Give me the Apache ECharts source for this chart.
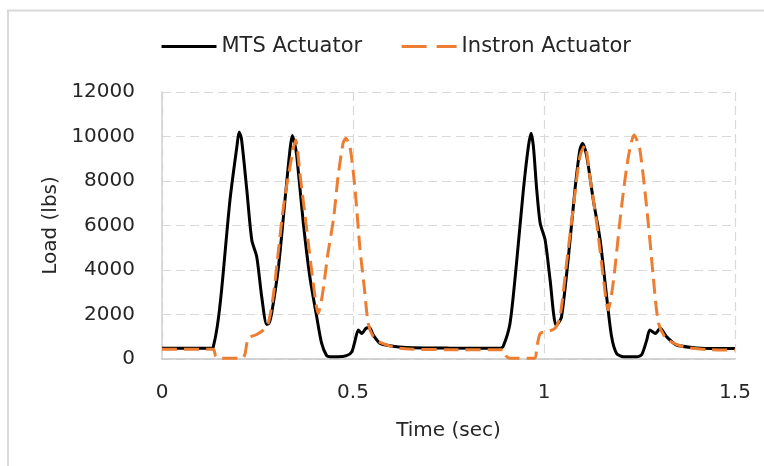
<!DOCTYPE html>
<html>
<head>
<meta charset="utf-8">
<script src="https://cdn.jsdelivr.net/npm/echarts@6/dist/echarts.min.js"></script>
<style>
  html, body { margin: 0; padding: 0; background: #ffffff; }
  #chart { width: 764px; height: 466px; }
</style>
</head>
<body>
<div id="chart"></div>
<script>
// Load history of the two actuators over 1.5 s (time in sec, load in lbs)
const mtsTime = [0, 0.13, 0.134, 0.145, 0.156, 0.178, 0.196, 0.202, 0.208, 0.222, 0.235, 0.248, 0.261, 0.274, 0.28, 0.287, 0.305, 0.322, 0.335, 0.341, 0.347, 0.353, 0.37, 0.387, 0.405, 0.418, 0.431, 0.44, 0.46, 0.483, 0.497, 0.505, 0.514, 0.523, 0.534, 0.543, 0.553, 0.571, 0.597, 0.64, 0.75, 0.885, 0.893, 0.911, 0.928, 0.946, 0.959, 0.966, 0.972, 0.981, 0.99, 1.003, 1.016, 1.031, 1.037, 1.046, 1.064, 1.081, 1.094, 1.101, 1.112, 1.129, 1.147, 1.164, 1.177, 1.19, 1.208, 1.243, 1.256, 1.269, 1.277, 1.292, 1.304, 1.321, 1.347, 1.4, 1.45, 1.5];
const mtsLoad = [480, 480, 520, 1500, 3100, 7150, 9540, 10200, 9900, 7600, 5350, 4600, 2800, 1550, 1600, 2050, 4150, 7150, 9400, 10050, 9700, 9100, 6100, 3700, 1900, 700, 150, 100, 100, 150, 330, 800, 1300, 1150, 1380, 1420, 1080, 700, 600, 520, 490, 480, 560, 1600, 4300, 7600, 9540, 10150, 9600, 7600, 6100, 5350, 3550, 1530, 1600, 1900, 4600, 7600, 9400, 9700, 9100, 7150, 5350, 2800, 1000, 250, 100, 100, 200, 850, 1300, 1150, 1380, 1000, 630, 500, 470, 470];

const instronTime = [0, 0.134, 0.14, 0.15, 0.21, 0.217, 0.226, 0.248, 0.265, 0.278, 0.291, 0.305, 0.318, 0.335, 0.35, 0.361, 0.379, 0.396, 0.409, 0.42, 0.434, 0.449, 0.461, 0.474, 0.481, 0.492, 0.505, 0.518, 0.529, 0.54, 0.553, 0.571, 0.614, 0.658, 0.75, 0.893, 0.9, 0.91, 0.975, 0.981, 0.99, 1.007, 1.029, 1.042, 1.059, 1.077, 1.094, 1.107, 1.12, 1.138, 1.155, 1.168, 1.181, 1.203, 1.221, 1.236, 1.251, 1.273, 1.286, 1.3, 1.321, 1.365, 1.426, 1.5];
const instronLoad = [440, 440, 150, 30, 30, 200, 930, 1100, 1300, 1600, 2800, 4900, 6850, 8650, 9840, 8350, 5800, 3400, 2050, 2900, 4700, 6300, 8200, 9700, 9920, 9540, 7700, 5000, 3300, 1600, 1000, 750, 500, 440, 420, 420, 150, 30, 30, 500, 1150, 1230, 1380, 1900, 4300, 6850, 9100, 9600, 8200, 6100, 3700, 2200, 3400, 6850, 9100, 10070, 9400, 6100, 3700, 1600, 900, 550, 420, 400];

const xTicks = { min: 0, max: 1.5, step: 0.5 };
const yTicks = { min: 0, max: 12000, step: 2000 };

const pairs = (xs, ys) => xs.map((x, i) => [x, ys[i]]);

const FONT = 'DejaVu Sans';
const TEXT = '#262626';
const GRID = '#d9d9d9';

const chart = echarts.init(document.getElementById('chart'), null, { renderer: 'canvas' });
chart.setOption({
  animation: false,
  backgroundColor: '#ffffff',
  textStyle: { fontFamily: FONT },
  graphic: [{
    type: 'rect',
    silent: true,
    z: -10,
    shape: { x: 8, y: 10.5, width: 800, height: 500 },
    style: { fill: 'none', stroke: '#d9d9d9', lineWidth: 2 }
  }],
  legend: {
    type: 'plain',
    orient: 'horizontal',
    left: 155,
    top: 31,
    itemWidth: 55,
    itemHeight: 14,
    itemGap: 38,
    itemStyle: { opacity: 0 },
    lineStyle: { width: 3 },
    textStyle: { fontFamily: FONT, fontSize: 21, color: TEXT },
    data: [
      { name: 'MTS Actuator' },
      { name: 'Instron Actuator', lineStyle: { width: 3, type: [25, 10] } }
    ]
  },
  grid: { left: 162, right: 29, top: 92, bottom: 107, containLabel: false },
  xAxis: {
    type: 'value',
    min: xTicks.min,
    max: xTicks.max,
    interval: xTicks.step,
    name: 'Time (sec)',
    nameLocation: 'middle',
    nameGap: 62,
    nameTextStyle: { fontFamily: FONT, fontSize: 20, color: TEXT },
    axisLine: { show: true, lineStyle: { color: '#c8c8c8', width: 1.5 } },
    axisTick: { show: false },
    axisLabel: { fontFamily: FONT, fontSize: 20, color: TEXT, margin: 24 },
    splitLine: { show: true, lineStyle: { color: GRID, width: 1.2, type: [9, 5] } }
  },
  yAxis: {
    type: 'value',
    min: yTicks.min,
    max: yTicks.max,
    interval: yTicks.step,
    name: 'Load (lbs)',
    nameLocation: 'middle',
    nameGap: 78,
    nameTextStyle: { fontFamily: FONT, fontSize: 20, color: TEXT },
    axisLine: { show: true, lineStyle: { color: '#d0d0d0', width: 1.5 } },
    axisTick: { show: false },
    axisLabel: { fontFamily: FONT, fontSize: 20, color: TEXT, margin: 27, formatter: (v) => String(v) },
    splitLine: { show: true, lineStyle: { color: GRID, width: 1.2, type: [9, 5] } }
  },
  series: [
    {
      name: 'MTS Actuator',
      type: 'line',
      data: pairs(mtsTime, mtsLoad),
      showSymbol: false,
      symbol: 'none',
      smooth: 0.25,
      z: 3,
      lineStyle: { color: '#000000', width: 3 },
      itemStyle: { color: '#000000' }
    },
    {
      name: 'Instron Actuator',
      type: 'line',
      data: pairs(instronTime, instronLoad),
      showSymbol: false,
      symbol: 'none',
      smooth: 0.25,
      z: 4,
      lineStyle: { color: '#ED7D31', width: 3, type: [15, 7] },
      itemStyle: { color: '#ED7D31' }
    }
  ]
});
</script>
</body>
</html>
